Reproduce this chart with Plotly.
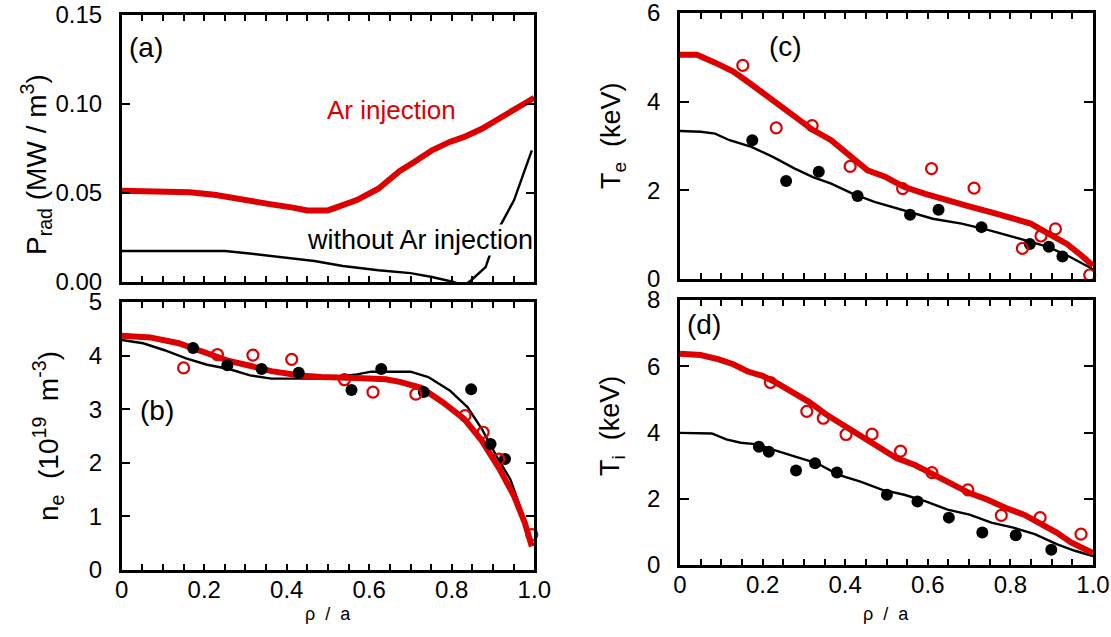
import plotly.graph_objects as go

# ---------------- data ----------------
# (a) radiated power profile
prad_ar_x = [0.0, 0.08, 0.164, 0.225, 0.294, 0.363, 0.415, 0.45, 0.50, 0.535, 0.57, 0.622, 0.674, 0.709,
             0.752, 0.795, 0.83, 0.873, 0.908, 0.951, 1.0]
prad_ar_y = [0.0513, 0.0508, 0.0504, 0.049, 0.046, 0.0436, 0.0418, 0.0402, 0.0402, 0.043, 0.046, 0.0524,
             0.0624, 0.0674, 0.074, 0.0787, 0.0815, 0.0861, 0.0908, 0.0964, 0.1035]
prad_no_x = [0.0, 0.25, 0.31, 0.398, 0.467, 0.536, 0.622, 0.70, 0.752, 0.804, 0.83, 0.847, 0.882,
             0.916, 0.951, 0.994]
prad_no_y = [0.0174, 0.0174, 0.016, 0.0135, 0.0118, 0.009, 0.0066, 0.005, 0.0028, 0.0, -0.002, 0.001,
             0.0084, 0.031, 0.046, 0.074]

# (b) electron density
ne_ar_x = [0.0, 0.069, 0.138, 0.19, 0.26, 0.311, 0.363, 0.432, 0.484, 0.57, 0.64, 0.674, 0.726, 0.778,
           0.83, 0.873, 0.916, 0.951, 0.977, 0.994]
ne_ar_y = [4.37, 4.34, 4.23, 4.10, 3.90, 3.81, 3.71, 3.63, 3.60, 3.58, 3.56, 3.51, 3.40, 3.13, 2.82,
           2.41, 1.88, 1.38, 0.88, 0.44]
ne_no_x = [0.0, 0.052, 0.104, 0.156, 0.207, 0.26, 0.311, 0.363, 0.484, 0.536, 0.57, 0.605, 0.70, 0.743,
           0.795, 0.838, 0.873, 0.908, 0.942, 0.968, 0.994]
ne_no_y = [4.29, 4.23, 4.10, 3.95, 3.83, 3.75, 3.63, 3.57, 3.57, 3.62, 3.65, 3.70, 3.70, 3.60, 3.35,
           3.04, 2.63, 2.13, 1.69, 1.13, 0.50]
ne_no_pts_x = [0.173, 0.256, 0.339, 0.429, 0.557, 0.629, 0.732, 0.847, 0.894, 0.929]
ne_no_pts_y = [4.14, 3.82, 3.75, 3.68, 3.36, 3.75, 3.32, 3.37, 2.35, 2.07]
ne_ar_pts_x = [0.150, 0.232, 0.318, 0.412, 0.540, 0.609, 0.713, 0.832, 0.876, 0.914, 0.994]
ne_ar_pts_y = [3.77, 4.02, 4.01, 3.93, 3.55, 3.32, 3.28, 2.88, 2.57, 2.07, 0.66]

# (c) electron temperature
te_ar_x = [0.0, 0.041, 0.085, 0.129, 0.164, 0.208, 0.243, 0.278, 0.322, 0.366, 0.41, 0.454, 0.498,
           0.542, 0.594, 0.647, 0.70, 0.752, 0.805, 0.849, 0.893, 0.937, 0.972, 1.0]
te_ar_y = [5.06, 5.06, 4.88, 4.68, 4.45, 4.15, 3.92, 3.66, 3.36, 3.13, 2.79, 2.45, 2.30, 2.08, 1.92,
           1.77, 1.64, 1.51, 1.36, 1.25, 1.02, 0.79, 0.53, 0.30]
te_no_x = [0.0, 0.05, 0.085, 0.12, 0.173, 0.226, 0.278, 0.322, 0.366, 0.419, 0.471, 0.542, 0.612,
           0.682, 0.752, 0.822, 0.893, 0.946, 1.0]
te_no_y = [3.34, 3.32, 3.28, 3.13, 2.98, 2.75, 2.49, 2.30, 2.15, 1.92, 1.74, 1.55, 1.36, 1.25, 1.09,
           0.91, 0.72, 0.49, 0.22]
te_no_pts_x = [0.175, 0.257, 0.336, 0.43, 0.557, 0.626, 0.73, 0.847, 0.893, 0.926]
te_no_pts_y = [3.13, 2.21, 2.42, 1.87, 1.45, 1.56, 1.17, 0.79, 0.73, 0.51]
te_ar_pts_x = [0.152, 0.233, 0.32, 0.412, 0.539, 0.609, 0.712, 0.829, 0.874, 0.909, 0.992]
te_ar_pts_y = [4.82, 3.41, 3.46, 2.54, 2.04, 2.49, 2.05, 0.69, 0.97, 1.13, 0.09]

# (d) ion temperature
ti_ar_x = [0.0, 0.05, 0.094, 0.129, 0.164, 0.20, 0.235, 0.279, 0.314, 0.358, 0.402, 0.446, 0.49, 0.525,
           0.569, 0.613, 0.657, 0.701, 0.745, 0.789, 0.833, 0.877, 0.912, 0.947, 1.0]
ti_ar_y = [6.38, 6.34, 6.21, 6.06, 5.84, 5.71, 5.49, 5.17, 4.91, 4.51, 4.17, 3.87, 3.52, 3.22, 3.02,
           2.72, 2.47, 2.17, 1.97, 1.72, 1.52, 1.23, 0.98, 0.68, 0.36]
ti_no_x = [0.0, 0.077, 0.112, 0.147, 0.182, 0.226, 0.279, 0.332, 0.384, 0.437, 0.49, 0.543, 0.595,
           0.648, 0.701, 0.754, 0.807, 0.859, 0.912, 0.956, 1.0]
ti_no_y = [3.99, 3.97, 3.79, 3.69, 3.65, 3.47, 3.27, 3.07, 2.72, 2.52, 2.27, 2.12, 1.92, 1.67, 1.52,
           1.28, 1.13, 0.93, 0.63, 0.43, 0.27]
ti_no_pts_x = [0.191, 0.215, 0.281, 0.327, 0.38, 0.501, 0.575, 0.651, 0.732, 0.813, 0.899]
ti_no_pts_y = [3.57, 3.42, 2.85, 3.07, 2.79, 2.12, 1.92, 1.43, 0.98, 0.90, 0.46]
ti_ar_pts_x = [0.219, 0.307, 0.347, 0.402, 0.465, 0.534, 0.61, 0.697, 0.778, 0.872, 0.971]
ti_ar_pts_y = [5.51, 4.64, 4.43, 3.94, 3.95, 3.44, 2.79, 2.27, 1.50, 1.43, 0.93]

x_tick_vals = [i * 0.05 for i in range(21)]
x_tick_labels = ["0", "0.2", "0.4", "0.6", "0.8", "1.0"]

# ---------------- styling ----------------
RED = "#dd0000"
FONT = "Liberation Sans, Arial, sans-serif"
W, H = 1111, 637
OFF = 0  # body margin removed via post_script

fig = go.Figure()

def line(x, y, red, xa, ya):
    fig.add_trace(go.Scatter(x=x, y=y, mode="lines", xaxis=xa, yaxis=ya,
                             line=dict(color=RED if red else "black", width=6 if red else 2.4),
                             showlegend=False, hoverinfo="skip"))

def pts(x, y, red, xa, ya):
    if red:
        m = dict(symbol="circle-open", size=11, color=RED, line=dict(width=2.2, color=RED))
    else:
        m = dict(symbol="circle", size=12, color="black")
    fig.add_trace(go.Scatter(x=x, y=y, mode="markers", xaxis=xa, yaxis=ya, marker=m,
                             showlegend=False, hoverinfo="skip", cliponaxis=False))

# (a)
line(prad_no_x, prad_no_y, False, "x", "y")
line(prad_ar_x, prad_ar_y, True, "x", "y")
# (b)
line(ne_no_x, ne_no_y, False, "x2", "y2")
line(ne_ar_x, ne_ar_y, True, "x2", "y2")
pts(ne_no_pts_x, ne_no_pts_y, False, "x2", "y2")
pts(ne_ar_pts_x, ne_ar_pts_y, True, "x2", "y2")
# (c)
line(te_no_x, te_no_y, False, "x3", "y3")
line(te_ar_x, te_ar_y, True, "x3", "y3")
pts(te_no_pts_x, te_no_pts_y, False, "x3", "y3")
pts(te_ar_pts_x, te_ar_pts_y, True, "x3", "y3")
# (d)
line(ti_no_x, ti_no_y, False, "x4", "y4")
line(ti_ar_x, ti_ar_y, True, "x4", "y4")
pts(ti_no_pts_x, ti_no_pts_y, False, "x4", "y4")
pts(ti_ar_pts_x, ti_ar_pts_y, True, "x4", "y4")

def px_x(p):
    return (p - OFF) / W

def px_y(p):
    return 1 - (p - OFF) / H

left_dom = [px_x(121.7), px_x(534.3)]
right_dom = [px_x(680), px_x(1093)]

def xaxis(dom, anchor, labels):
    texts = []
    for i in range(21):
        texts.append(x_tick_labels[i // 4] if (labels and i % 4 == 0) else "")
    return dict(domain=dom, anchor=anchor, range=[0, 1], tickmode="array", automargin=False,
                tickvals=x_tick_vals, ticktext=texts, ticks="inside", ticklen=6, tickwidth=2,
                tickcolor="black", showline=True, linewidth=2.5, linecolor="black", mirror="ticks",
                showgrid=False, zeroline=False, ticklabelstandoff=-4, ticklabeloverflow="allow",
                tickfont=dict(family=FONT, size=24, color="black"))

def yaxis(dom, anchor, rng, vals, texts):
    return dict(domain=dom, anchor=anchor, range=rng, tickmode="array", tickvals=vals, ticktext=texts,
                automargin=False, ticklabeloverflow="allow",
                ticks="inside", ticklen=9, tickwidth=2, tickcolor="black", showline=True, linewidth=2.5,
                linecolor="black", mirror="ticks", showgrid=False, zeroline=False, ticklabelstandoff=12,
                tickfont=dict(family=FONT, size=24, color="black"))

dom_a = [px_y(282), px_y(15)]
dom_b = [px_y(570), px_y(302)]
dom_c = [px_y(279), px_y(13)]
dom_d = [px_y(565), px_y(300)]

fig.update_layout(
    width=W, height=H, margin=dict(l=0, r=0, t=0, b=0, pad=0), autosize=False,
    paper_bgcolor="white", plot_bgcolor="white",
    font=dict(family=FONT, color="black"),
    xaxis=xaxis(left_dom, "y", False),
    yaxis=yaxis(dom_a, "x", [0, 0.15], [0, 0.05, 0.10, 0.15], ["0.00", "0.05", "0.10", "0.15"]),
    xaxis2=xaxis(left_dom, "y2", True),
    yaxis2=yaxis(dom_b, "x2", [0, 5], [0, 1, 2, 3, 4, 5], ["0", "1", "2", "3", "4", "5"]),
    xaxis3=xaxis(right_dom, "y3", False),
    yaxis3=yaxis(dom_c, "x3", [0, 6], [0, 2, 4, 6], ["0", "2", "4", "6"]),
    xaxis4=xaxis(right_dom, "y4", True),
    yaxis4=yaxis(dom_d, "x4", [0, 8], [0, 2, 4, 6, 8], ["0", "2", "4", "6", "8"]),
)

def txt(text, x, y, size, color="black", xref="paper", yref="paper", angle=0, **kw):
    d = dict(text=text, x=x, y=y, xref=xref, yref=yref, showarrow=False, textangle=angle,
             xanchor="center", yanchor="middle", font=dict(size=size, family=FONT, color=color))
    d.update(kw)
    return d

ann = []
# panel labels
ann.append(txt("(a)", 0.06, 0.132, 28, xref="x", yref="y"))
ann.append(txt("(b)", 0.086, 2.98, 28, xref="x2", yref="y2"))
ann.append(txt("(c)", 0.256, 5.25, 28, xref="x3", yref="y3"))
ann.append(txt("(d)", 0.059, 7.26, 28, xref="x4", yref="y4"))
# curve labels
ann.append(txt("Ar injection", 0.654, 0.0969, 26, color=RED, xref="x", yref="y"))
ann.append(txt("without Ar injection", 1.0, 0.0234, 27, xref="x", yref="y",
               xanchor="right", bgcolor="white", borderpad=0))
# y-axis titles
ann.append(txt("P<sub>rad</sub> (MW / m<sup>3</sup>)", px_x(36), px_y(165), 28, angle=-90))
ann.append(txt("n<sub>e</sub>  (10<sup>19</sup>  m<sup>-3</sup>)", px_x(48), px_y(436), 28, angle=-90))
ann.append(txt("T<sub>e</sub>  (keV)", px_x(613), px_y(136), 27, angle=-90))
ann.append(txt("T<sub>i</sub>  (keV)", px_x(612), px_y(426), 27, angle=-90))
# x-axis titles
for cx in (328, 886):
    ann.append(txt("ρ  /  a", px_x(cx), px_y(614), 18))

fig.update_layout(annotations=ann)
fig.write_html("out.html", config={"displayModeBar": False},
               post_script="document.body.style.margin='0';")
